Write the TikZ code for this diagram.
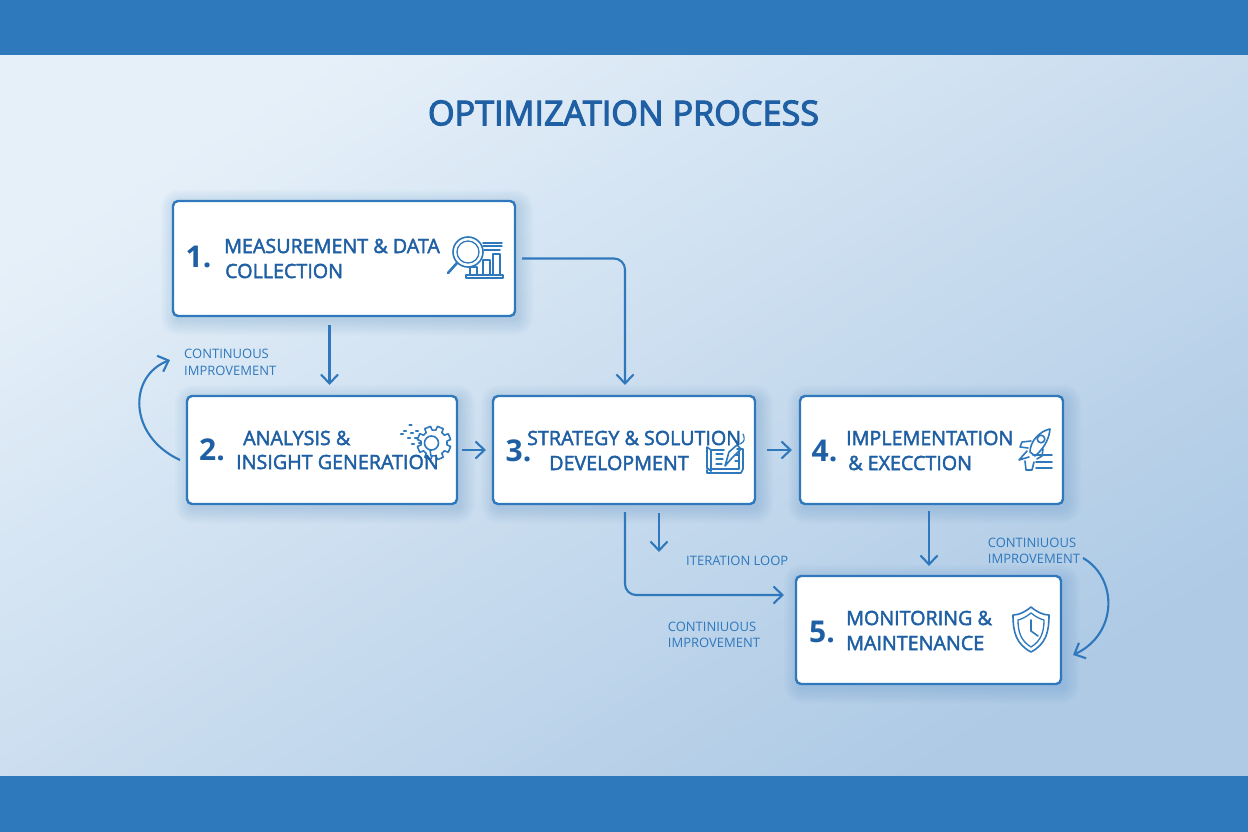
\documentclass[tikz,border=0pt]{standalone}
\usepackage{fontspec}
\setmainfont{Open Sans}
\newfontfamily\semib[RawFeature={embolden=2.2}]{Open Sans}
\newfontfamily\titlefont[RawFeature={embolden=3.2}]{Open Sans}
\newfontfamily\numb{Open Sans Bold}
\usetikzlibrary{arrows.meta,calc}
\definecolor{bluebar}{HTML}{2E78BC}
\definecolor{inkblue}{HTML}{1F5FA3}
\definecolor{linkblue}{HTML}{2F78BC}
\definecolor{bgA}{HTML}{E6F0F9}
\definecolor{bgB}{HTML}{AECAE5}
\definecolor{shadowblue}{HTML}{3F7FBF}
\tikzset{
  x=1pt,y=-1pt,
  boxnode/.style={draw=linkblue,line width=2.4pt,fill=white,rounded corners=5pt,inner sep=0pt,outer sep=0pt},
  conn/.style={draw=linkblue,line width=2.1pt,-{Straight Barb[length=9pt,width=17pt,line width=2.1pt]}},
  numlabel/.style={text=inkblue,font=\fontsize{30}{34}\selectfont\numb,inner sep=0pt},
  boxtext/.style={text=inkblue,font=\fontsize{19.7}{24}\selectfont\semib,anchor=west,inner sep=0pt},
  note/.style={text=linkblue,font=\fontsize{13}{16}\selectfont,inner sep=0pt},
  icon/.style={draw=linkblue,line width=1.6pt,line cap=round,line join=round},
}
\newcommand{\softbox}[5]{%
  \foreach \g in {15,13,11,9,7,5,3,1}{
    \fill[shadowblue,opacity=0.028,rounded corners={(\g+3)*1pt}]
      ({#2-#4/2+3-\g},{#3-#5/2+4-\g}) rectangle ({#2+#4/2+3+\g},{#3+#5/2+4+\g});
  }
  \node[boxnode,minimum width=#4 pt,minimum height=#5 pt] (#1) at (#2,#3) {};
}
\newcommand{\gearicon}[4]{%
  \draw[icon] ({#1+#4},{#2})
    \foreach \a in {0,45,...,315}{
      -- ({#1+#4*cos(\a+8)},{#2+#4*sin(\a+8)})
      -- ({#1+#3*cos(\a+12)},{#2+#3*sin(\a+12)})
      -- ({#1+#3*cos(\a+33)},{#2+#3*sin(\a+33)})
      -- ({#1+#4*cos(\a+37)},{#2+#4*sin(\a+37)})
    } -- cycle;
}
\begin{document}
\begin{tikzpicture}
\useasboundingbox (0,0) rectangle (1248,832);
\shade[top color=bgA,bottom color=bgB,shading angle=32] (0,55) rectangle (1248,776);
\fill[bluebar] (0,0) rectangle (1248,55.5);
\fill[bluebar] (0,776) rectangle (1248,832);

\node[text=inkblue,font=\fontsize{34.2}{40}\selectfont\titlefont,inner sep=0pt] (title) at (623.5,113) {OPTIMIZATION PROCESS};

\softbox{b1}{344}{258.5}{342}{115}
\softbox{b2}{322}{450}{270}{108}
\softbox{b3}{624}{450}{262}{108}
\softbox{b4}{931.5}{450}{263}{108}
\softbox{b5}{928.5}{630}{265}{108}

% connectors
\draw[conn,shorten <=9pt,shorten >=11pt] (b1.south -| 329.5,0) -- (b2.north -| 329.5,0);
\draw[conn,rounded corners=11pt,shorten <=7pt,shorten >=11pt] (b1.east) -| (b3.north -| 625,0);
\draw[conn,shorten <=5pt,shorten >=7pt] (b2.east) -- (b3.west);
\draw[conn,shorten <=12pt,shorten >=8pt] (b3.east) -- (b4.west);
\draw[conn,shorten <=7pt,shorten >=10pt] (b4.south -| 929,0) -- (b5.north -| 929,0);
\coordinate (iter) at (659,552);
\draw[conn,shorten <=9pt] (b3.south -| 659,0) -- (iter);
\coordinate (enterfive) at (784,595);
\draw[conn,rounded corners=11pt,shorten <=8pt] (b3.south -| 625,0) |- (enterfive);
\coordinate (loopAa) at (180,460);
\coordinate (loopAb) at (170,360);
\draw[conn] (loopAa) .. controls (128,436) and (128,376) .. (loopAb);
\coordinate (loopBa) at (1083,558);
\coordinate (loopBb) at (1073,655);
\draw[conn] (loopBa) .. controls (1118,578) and (1118,634) .. (loopBb);

% magnifier and chart
\draw[icon] (468,252) circle[radius=15];
\draw[icon,line width=1.3pt] (468,252) circle[radius=11];
\draw[icon,line width=2.6pt] (457,263) -- (448,273);
\draw[icon] (483,243) -- (502,243);
\draw[icon,line width=1.2pt] (483,246) -- (502,246);
\draw[icon] (484,250) -- (500,250);
\draw[icon] (470,274) -- (470,267) -- (477,267) -- (477,274);
\draw[icon] (483,274) -- (483,260) -- (490,260) -- (490,274);
\draw[icon] (493,274) -- (493,254) -- (500,254) -- (500,274);
\draw[icon] (466,275) -- (503,275) -- (503,278) -- (466,278) -- cycle;

% gears
\gearicon{434}{443}{17}{13}
\draw[icon] (431.5,443) circle[radius=7];
\draw[icon] (430,450) -- (431,456);
\foreach \p in {(410.5,425),(405,431),(412,433),(417,431),(402,434),(409,438),(416,438),(413,444),(420,443)}{
  \draw[icon,line width=1.8pt] \p ++(-1.2,0) -- ++(2.4,0);
}

% blueprint and pencil
\draw[icon] (711,450) -- (707,447) -- (707,468) -- (711,471) -- (711,450) -- (724,450);
\draw[icon] (711,471) -- (707,468);
\draw[icon] (707,470) -- (707,473) -- (741,473) -- (743,469) -- (743,449) -- (737,449);
\draw[icon,line width=1.2pt] (711,469) -- (739,469) -- (739,451);
\draw[icon,line width=1.3pt] (716,454) -- (723,454);
\draw[icon,line width=1.3pt] (716,459) -- (723,459);
\draw[icon,line width=1.3pt] (716,464) -- (722,464);
\draw[icon,line width=1.3pt] (735,455) -- (739,455);
\draw[icon,line width=1.3pt] (735,461) -- (739,461);
\draw[icon] (725,466) -- (729,452) -- (737,445) -- (741,449) -- (732,458) -- cycle;
\draw[icon,line width=1.2pt] (740,444) .. controls (745,442) and (745,438) .. (743,434);

% rocket and list
\draw[icon] (1030,452) .. controls (1030,441) and (1040,431) .. (1050,429) .. controls (1049,441) and (1042,450) .. (1035,456) -- cycle;
\draw[icon] (1041,439) circle[radius=3.8];
\draw[icon] (1031,441) -- (1022,442) -- (1020,447) -- (1028,448);
\draw[icon] (1043,449) -- (1042,456) -- (1037,459);
\draw[icon] (1027,451) -- (1019,460) -- (1029,457);
\draw[icon] (1033,455) -- (1052,455);
\draw[icon] (1036,462) -- (1052,462);
\draw[icon] (1036,468) -- (1052,468);
\draw[icon] (1025,461) -- (1026,470) -- (1032,470) -- (1034,462);

% shield and clock
\draw[icon] (1031,607) .. controls (1025,612) and (1019,615) .. (1013,615) .. controls (1013,632) and (1016,644) .. (1031,652) .. controls (1046,644) and (1049,632) .. (1049,615) .. controls (1043,615) and (1037,612) .. (1031,607) -- cycle;
\draw[icon,line width=1.3pt] (1031,613) .. controls (1026,617) and (1022,619) .. (1018,620) .. controls (1018,632) and (1021,641) .. (1031,647) .. controls (1041,641) and (1044,632) .. (1044,620) .. controls (1040,619) and (1036,617) .. (1031,613) -- cycle;
\draw[icon] (1031,620) -- (1031,631) -- (1038,636);

% box texts
\node[numlabel] (n1) at (198.5,257) {1.};
\node[boxtext] (t1a) at (224,246) {MEASUREMENT \& DATA};
\node[boxtext] (t1b) at (225,271) {COLLECTION};
\node[numlabel] (n2) at (212,450) {2.};
\node[boxtext] (t2a) at (243,438) {ANALYSIS \&};
\node[boxtext] (t2b) at (236,462) {INSIGHT GENERATION};
\node[numlabel] (n3) at (518.5,451) {3.};
\node[boxtext] (t3a) at (527,438) {STRATEGY \& SOLUTION};
\node[boxtext] (t3b) at (549,463) {DEVELOPMENT};
\node[numlabel] (n4) at (824.5,451) {4.};
\node[boxtext] (t4a) at (846,438) {IMPLEMENTATION};
\node[boxtext] (t4b) at (848,463) {\& EXECCTION};
\node[numlabel] (n5) at (822,632) {5.};
\node[boxtext] (t5a) at (846,618) {MONITORING \&};
\node[boxtext] (t5b) at (846,643) {MAINTENANCE};

% notes
\node[note,anchor=west] (l1a) at (184,354) {CONTINUOUS};
\node[note,anchor=west] (l1b) at (184,371) {IMPROVEMENT};
\node[note,anchor=west] (l2) at (686,561) {ITERATION LOOP};
\node[note] (l3a) at (712,627) {CONTINIUOUS};
\node[note] (l3b) at (714,643) {IMPROVEMENT};
\node[note] (l4a) at (1032,543) {CONTINIUOUS};
\node[note] (l4b) at (1034,559) {IMPROVEMENT};
\end{tikzpicture}
\end{document}
